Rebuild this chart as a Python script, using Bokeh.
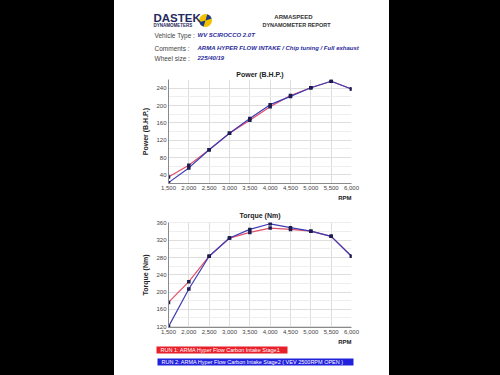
from bokeh.plotting import figure
from bokeh.layouts import row, column
from bokeh.models import Range1d, FixedTicker, NumeralTickFormatter, Label, Div, Title
from bokeh.embed import file_html
from bokeh.resources import INLINE

# ---------------- data ----------------
rpm = [1500, 2000, 2500, 3000, 3500, 4000, 4500, 5000, 5500, 6000]
power_run1 = [35, 62, 98, 136, 166, 197, 223, 241, 256, 238]
power_run2 = [22, 56, 98, 136, 170, 202, 221, 241, 256, 238]
torque_run1 = [176, 224, 283, 325, 338, 348, 345, 341, 329, 283]
torque_run2 = [120, 207, 283, 325, 345, 358, 349, 341, 329, 283]
power_ticks = [40, 80, 120, 160, 200, 240]
torque_ticks = [120, 160, 200, 240, 280, 320, 360]
rpm_ticks = [1500, 2000, 2500, 3000, 3500, 4000, 4500, 5000, 5500, 6000]

vehicle_type = "WV SCIROCCO 2.0T"
comments = "ARMA HYPER FLOW INTAKE / Chip tuning / Full exhaust"
wheel_size = "225/40/19"
run1_label = "RUN 1: ARMA Hyper Flow Carbon Intake Stage1"
run2_label = "RUN 2: ARMA Hyper Flow Carbon Intake Stage2  ( VEV 2500RPM OPEN )"

FONT = "Liberation Sans"
RED = "#e0506a"
BLUE = "#3c3cb4"
MARK = "#1c1c50"
PAPER_W = 265


def blank(h, yspan):
    p = figure(width=PAPER_W, height=h, output_backend="svg", toolbar_location=None,
               x_range=Range1d(0, PAPER_W), y_range=Range1d(yspan, 0),
               min_border=0, min_border_left=0, min_border_right=0,
               min_border_top=0, min_border_bottom=0)
    p.frame_align = False
    p.axis.visible = False
    p.grid.visible = False
    p.outline_line_color = None
    p.background_fill_color = "white"
    p.border_fill_color = "white"
    return p


def lab(p, x, y, text, size, color="#333333", style="normal", align="left", base="middle"):
    p.add_layout(Label(x=x, y=y, text=text, text_font=FONT, text_font_size=size,
                       text_color=color, text_font_style=style, text_align=align,
                       text_baseline=base))


# ---------------- header ----------------
hdr = blank(66, 66)
lab(hdr, 34, 17, "DASTEK", "11.5px", "#1f2a5c", "bold")
lab(hdr, 34, 24.5, "DYNAMOMETERS", "4.5px", "#1f2a5c", "bold")
hdr.circle(x=[86], y=[20], radius=6.5, fill_color="#f2c200", line_color=None)
hdr.wedge(x=[86, 86], y=[20, 20], radius=6.5, start_angle=[0.3, 3.4], end_angle=[1.3, 4.4],
          fill_color="#1a3a8c", line_color=None)
lab(hdr, 174, 16, "ARMASPEED", "6px", "#333333", "bold", "center")
lab(hdr, 177, 24, "DYNAMOMETER REPORT", "5.5px", "#333333", "bold", "center")
lab(hdr, 35, 34.5, "Vehicle Type :", "6.5px", "#444444")
lab(hdr, 35, 47.5, "Comments :", "6.5px", "#444444")
lab(hdr, 35, 57.5, "Wheel size :", "6.5px", "#444444")
lab(hdr, 78, 34.5, vehicle_type, "6px", "#2a2a99", "bold italic")
lab(hdr, 78, 47.5, comments, "6px", "#2a2a99", "bold italic")
lab(hdr, 78, 57.5, wheel_size, "6px", "#2a2a99", "bold italic")


# ---------------- charts ----------------
def chart(h, ylo, yhi, top, bottom, yticks, ylabel, title, r1, r2, tstand):
    p = figure(width=PAPER_W, height=h, output_backend="svg", toolbar_location=None,
               x_range=Range1d(1500, 6000), y_range=Range1d(ylo, yhi),
               min_border_left=49, min_border_right=33, min_border_top=top,
               min_border_bottom=bottom)
    p.outline_line_color = None
    p.background_fill_color = "white"
    p.border_fill_color = "white"
    p.title.text = title
    p.title.align = "center"
    p.title.offset = 5
    p.title.standoff = tstand
    p.title.text_font = FONT
    p.title.text_font_size = "7px"
    p.title.text_font_style = "bold"
    p.title.text_color = "#222222"
    rpm_title = Title(text="RPM", align="right", text_font=FONT, text_font_size="6px",
                      text_font_style="bold", text_color="#222222", standoff=0, offset=0)
    p.add_layout(rpm_title, "below")
    p.xaxis.ticker = FixedTicker(ticks=rpm_ticks)
    p.xaxis.formatter = NumeralTickFormatter(format="0,0")
    p.yaxis.ticker = FixedTicker(ticks=yticks,
                                 minor_ticks=[v + 20 for v in [yticks[0] - 40] + yticks])
    p.yaxis.axis_label = ylabel
    p.yaxis.axis_label_text_font = FONT
    p.yaxis.axis_label_text_font_size = "7px"
    p.yaxis.axis_label_text_font_style = "bold"
    p.yaxis.axis_label_text_color = "#222222"
    p.yaxis.axis_label_standoff = 4
    for ax in (p.xaxis, p.yaxis):
        ax.major_label_text_font = FONT
        ax.major_label_text_font_size = "6px"
        ax.major_label_text_color = "#444444"
        ax.axis_line_color = "#8a8a8a"
        ax.major_tick_line_color = None
        ax.minor_tick_line_color = None
        ax.major_tick_out = 0
        ax.minor_tick_out = 0
        ax.major_label_standoff = 2
    p.xgrid.grid_line_color = "#dedede"
    p.ygrid.grid_line_color = "#dedede"
    p.ygrid.minor_grid_line_color = "#eeeeee"
    p.line(rpm, r1, line_color=RED, line_width=1.2)
    p.line(rpm, r2, line_color=BLUE, line_width=1.2)
    p.scatter(rpm, r1, marker="square", size=3.5, fill_color=MARK, line_color=None)
    p.scatter(rpm, r2, marker="square", size=3.5, fill_color=MARK, line_color=None)
    return p


pw = chart(134, 20, 260, 12, 17, power_ticks, "Power (B.H.P.)", "Power (B.H.P.)",
           power_run1, power_run2, 4)
tq = chart(144, 118, 361, 22, 16, torque_ticks, "Torque (Nm)", "Torque (Nm)",
           torque_run1, torque_run2, 7)

# ---------------- run legend ----------------
leg = blank(23, 23)
leg.quad(left=[37], right=[168], top=[2], bottom=[9], fill_color="#e8202a", line_color=None)
leg.quad(left=[38], right=[234], top=[14], bottom=[21], fill_color="#2222dd", line_color=None)
lab(leg, 41, 5.5, run1_label, "5.5px", "white")
lab(leg, 42, 17.5, run2_label, "5.5px", "white")

paper = column(hdr, pw, tq, leg, spacing=0)
left_shadow = ("-8px 0 0 0 black, 0 -8px 0 0 black, 0 8px 0 0 black, "
               "-8px -8px 0 0 black, -8px 8px 0 0 black")
right_shadow = ("8px 0 0 0 black, 0 -8px 0 0 black, 0 8px 0 0 black, "
                "8px -8px 0 0 black, 8px 8px 0 0 black")
left = Div(width=109, height=367,
           styles={"background-color": "black", "box-shadow": left_shadow})
right = Div(width=110, height=367,
            styles={"background-color": "black", "box-shadow": right_shadow})
page = row(left, paper, right, spacing=0)

open("out.html", "w").write(file_html(page, INLINE))
